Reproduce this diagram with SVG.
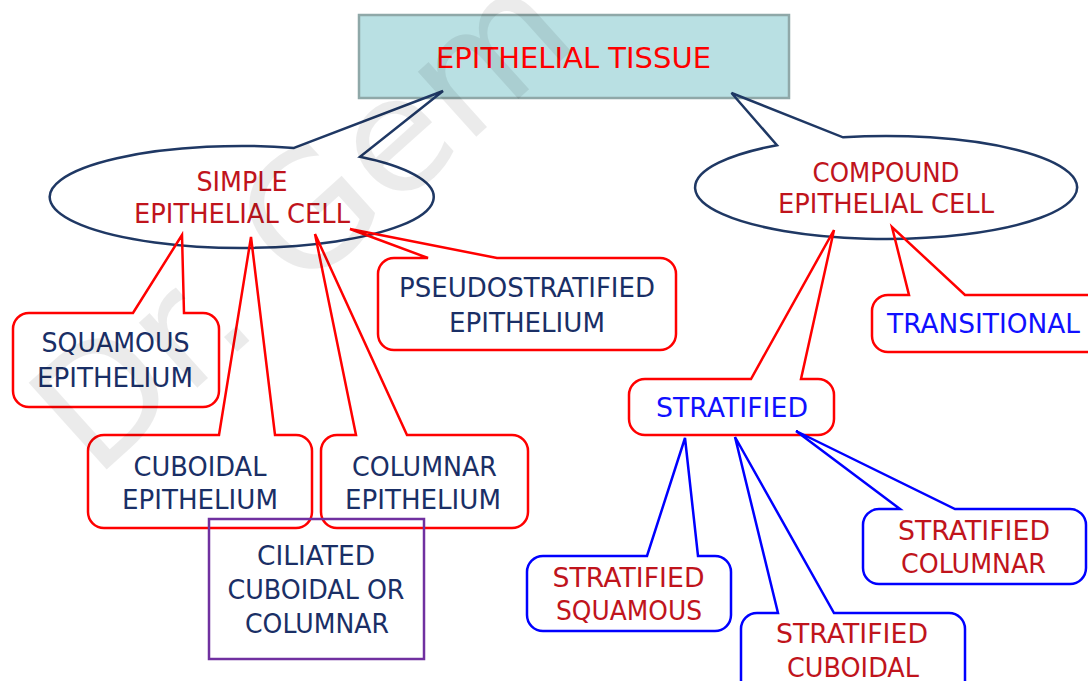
<svg xmlns="http://www.w3.org/2000/svg" width="1088" height="681" viewBox="0 0 1088 681">
<style>
text{font-family:"DejaVu Sans","Liberation Sans",sans-serif;font-size:26px;text-anchor:middle}
.red{fill:none;stroke:#ff0000;stroke-width:2.5;stroke-linejoin:miter}
.blue{fill:none;stroke:#0000ff;stroke-width:2.5;stroke-linejoin:miter}
.navy{fill:none;stroke:#1f3864;stroke-width:2.5;stroke-linejoin:miter}
.tn{fill:#1a2f66}
.tr{fill:#c0141c}
.tb{fill:#1010ff}
.title{font-size:29px;fill:#ff0000}
.wm{font-size:160px;fill:#000000;fill-opacity:0.08;text-anchor:start}
</style>
<rect width="1088" height="681" fill="#ffffff"/>
<g id="epithelial-tissue">
<rect x="359" y="15" width="430" height="83" fill="#b9e0e3" stroke="#8fa8a8" stroke-width="2.5"/>
<text class="title" x="573.5" y="68" textLength="275" lengthAdjust="spacingAndGlyphs">EPITHELIAL TISSUE</text>
</g>
<g id="simple">
<path class="navy" d="M294,147.9 L443,91 L360,156.8 A192,51 0 1 1 294,147.9 Z"/>
<text class="tr" x="242" y="191" textLength="91" lengthAdjust="spacingAndGlyphs">SIMPLE</text>
<text class="tr" x="242" y="223" textLength="216" lengthAdjust="spacingAndGlyphs">EPITHELIAL CELL</text>
</g>
<g id="compound">
<path class="navy" d="M777,145.2 L731.5,93 L843,137.3 A191,51.5 0 1 1 777,145.2 Z"/>
<text class="tr" x="886" y="182" textLength="147" lengthAdjust="spacingAndGlyphs">COMPOUND</text>
<text class="tr" x="886" y="213" textLength="216" lengthAdjust="spacingAndGlyphs">EPITHELIAL CELL</text>
</g>
<g id="squamous">
<path class="red" d="M29,313 L133,313 L182,235 L184,313 L203,313 A16,16 0 0 1 219,329 L219,391 A16,16 0 0 1 203,407 L29,407 A16,16 0 0 1 13,391 L13,329 A16,16 0 0 1 29,313 Z"/>
<text class="tn" x="115.5" y="352" textLength="148" lengthAdjust="spacingAndGlyphs">SQUAMOUS</text>
<text class="tn" x="115" y="387" textLength="156" lengthAdjust="spacingAndGlyphs">EPITHELIUM</text>
</g>
<g id="cuboidal">
<path class="red" d="M104,435 L219,435 L251,237 L275,435 L296,435 A16,16 0 0 1 312,451 L312,512 A16,16 0 0 1 296,528 L104,528 A16,16 0 0 1 88,512 L88,451 A16,16 0 0 1 104,435 Z"/>
<text class="tn" x="200" y="476" textLength="133" lengthAdjust="spacingAndGlyphs">CUBOIDAL</text>
<text class="tn" x="200" y="509" textLength="156" lengthAdjust="spacingAndGlyphs">EPITHELIUM</text>
</g>
<g id="columnar">
<path class="red" d="M337,435 L356,435 L315,234 L407,435 L512,435 A16,16 0 0 1 528,451 L528,512 A16,16 0 0 1 512,528 L337,528 A16,16 0 0 1 321,512 L321,451 A16,16 0 0 1 337,435 Z"/>
<text class="tn" x="424.5" y="476" textLength="145" lengthAdjust="spacingAndGlyphs">COLUMNAR</text>
<text class="tn" x="423" y="509" textLength="156" lengthAdjust="spacingAndGlyphs">EPITHELIUM</text>
</g>
<g id="pseudostratified">
<path class="red" d="M394,258 L428,258 L350,229 L497,258 L660,258 A16,16 0 0 1 676,274 L676,334 A16,16 0 0 1 660,350 L394,350 A16,16 0 0 1 378,334 L378,274 A16,16 0 0 1 394,258 Z"/>
<text class="tn" x="527" y="297" textLength="256" lengthAdjust="spacingAndGlyphs">PSEUDOSTRATIFIED</text>
<text class="tn" x="527" y="332" textLength="156" lengthAdjust="spacingAndGlyphs">EPITHELIUM</text>
</g>
<g id="ciliated">
<rect x="209" y="519" width="215" height="140" fill="none" stroke="#7030a0" stroke-width="2.5"/>
<text class="tn" x="316" y="565" textLength="118" lengthAdjust="spacingAndGlyphs">CILIATED</text>
<text class="tn" x="316" y="599" textLength="177" lengthAdjust="spacingAndGlyphs">CUBOIDAL OR</text>
<text class="tn" x="317" y="633" textLength="144" lengthAdjust="spacingAndGlyphs">COLUMNAR</text>
</g>
<g id="transitional">
<path class="red" d="M888,295 L909,295 L892,227 L965,295 L1094,295 A16,16 0 0 1 1110,311 L1110,336 A16,16 0 0 1 1094,352 L888,352 A16,16 0 0 1 872,336 L872,311 A16,16 0 0 1 888,295 Z"/>
<text class="tb" x="983.5" y="333" textLength="193" lengthAdjust="spacingAndGlyphs">TRANSITIONAL</text>
</g>
<g id="stratified">
<path class="red" d="M645,379 L751,379 L834,230 L801,379 L818,379 A16,16 0 0 1 834,395 L834,419 A16,16 0 0 1 818,435 L645,435 A16,16 0 0 1 629,419 L629,395 A16,16 0 0 1 645,379 Z"/>
<text class="tb" x="732" y="417" textLength="152" lengthAdjust="spacingAndGlyphs">STRATIFIED</text>
</g>
<g id="stratified-squamous">
<path class="blue" d="M543,556 L647,556 L685,438 L698,556 L715,556 A16,16 0 0 1 731,572 L731,615 A16,16 0 0 1 715,631 L543,631 A16,16 0 0 1 527,615 L527,572 A16,16 0 0 1 543,556 Z"/>
<text class="tr" x="628.5" y="587" textLength="152" lengthAdjust="spacingAndGlyphs">STRATIFIED</text>
<text class="tr" x="629" y="620" textLength="146" lengthAdjust="spacingAndGlyphs">SQUAMOUS</text>
</g>
<g id="stratified-cuboidal">
<path class="blue" d="M757,613 L778,613 L735,437 L834,613 L949,613 A16,16 0 0 1 965,629 L965,704 A16,16 0 0 1 949,720 L757,720 A16,16 0 0 1 741,704 L741,629 A16,16 0 0 1 757,613 Z"/>
<text class="tr" x="852" y="643" textLength="152" lengthAdjust="spacingAndGlyphs">STRATIFIED</text>
<text class="tr" x="853" y="677" textLength="132" lengthAdjust="spacingAndGlyphs">CUBOIDAL</text>
</g>
<g id="stratified-columnar">
<path class="blue" d="M879,509 L900,509 L796,431 L955,509 L1070,509 A16,16 0 0 1 1086,525 L1086,568 A16,16 0 0 1 1070,584 L879,584 A16,16 0 0 1 863,568 L863,525 A16,16 0 0 1 879,509 Z"/>
<text class="tr" x="974" y="540" textLength="152" lengthAdjust="spacingAndGlyphs">STRATIFIED</text>
<text class="tr" x="973.5" y="573" textLength="145" lengthAdjust="spacingAndGlyphs">COLUMNAR</text>
</g>
<g id="watermark">
<text class="wm" x="0" y="0" transform="translate(95,480) rotate(-42)">Dr. Gem</text>
</g>
</svg>
